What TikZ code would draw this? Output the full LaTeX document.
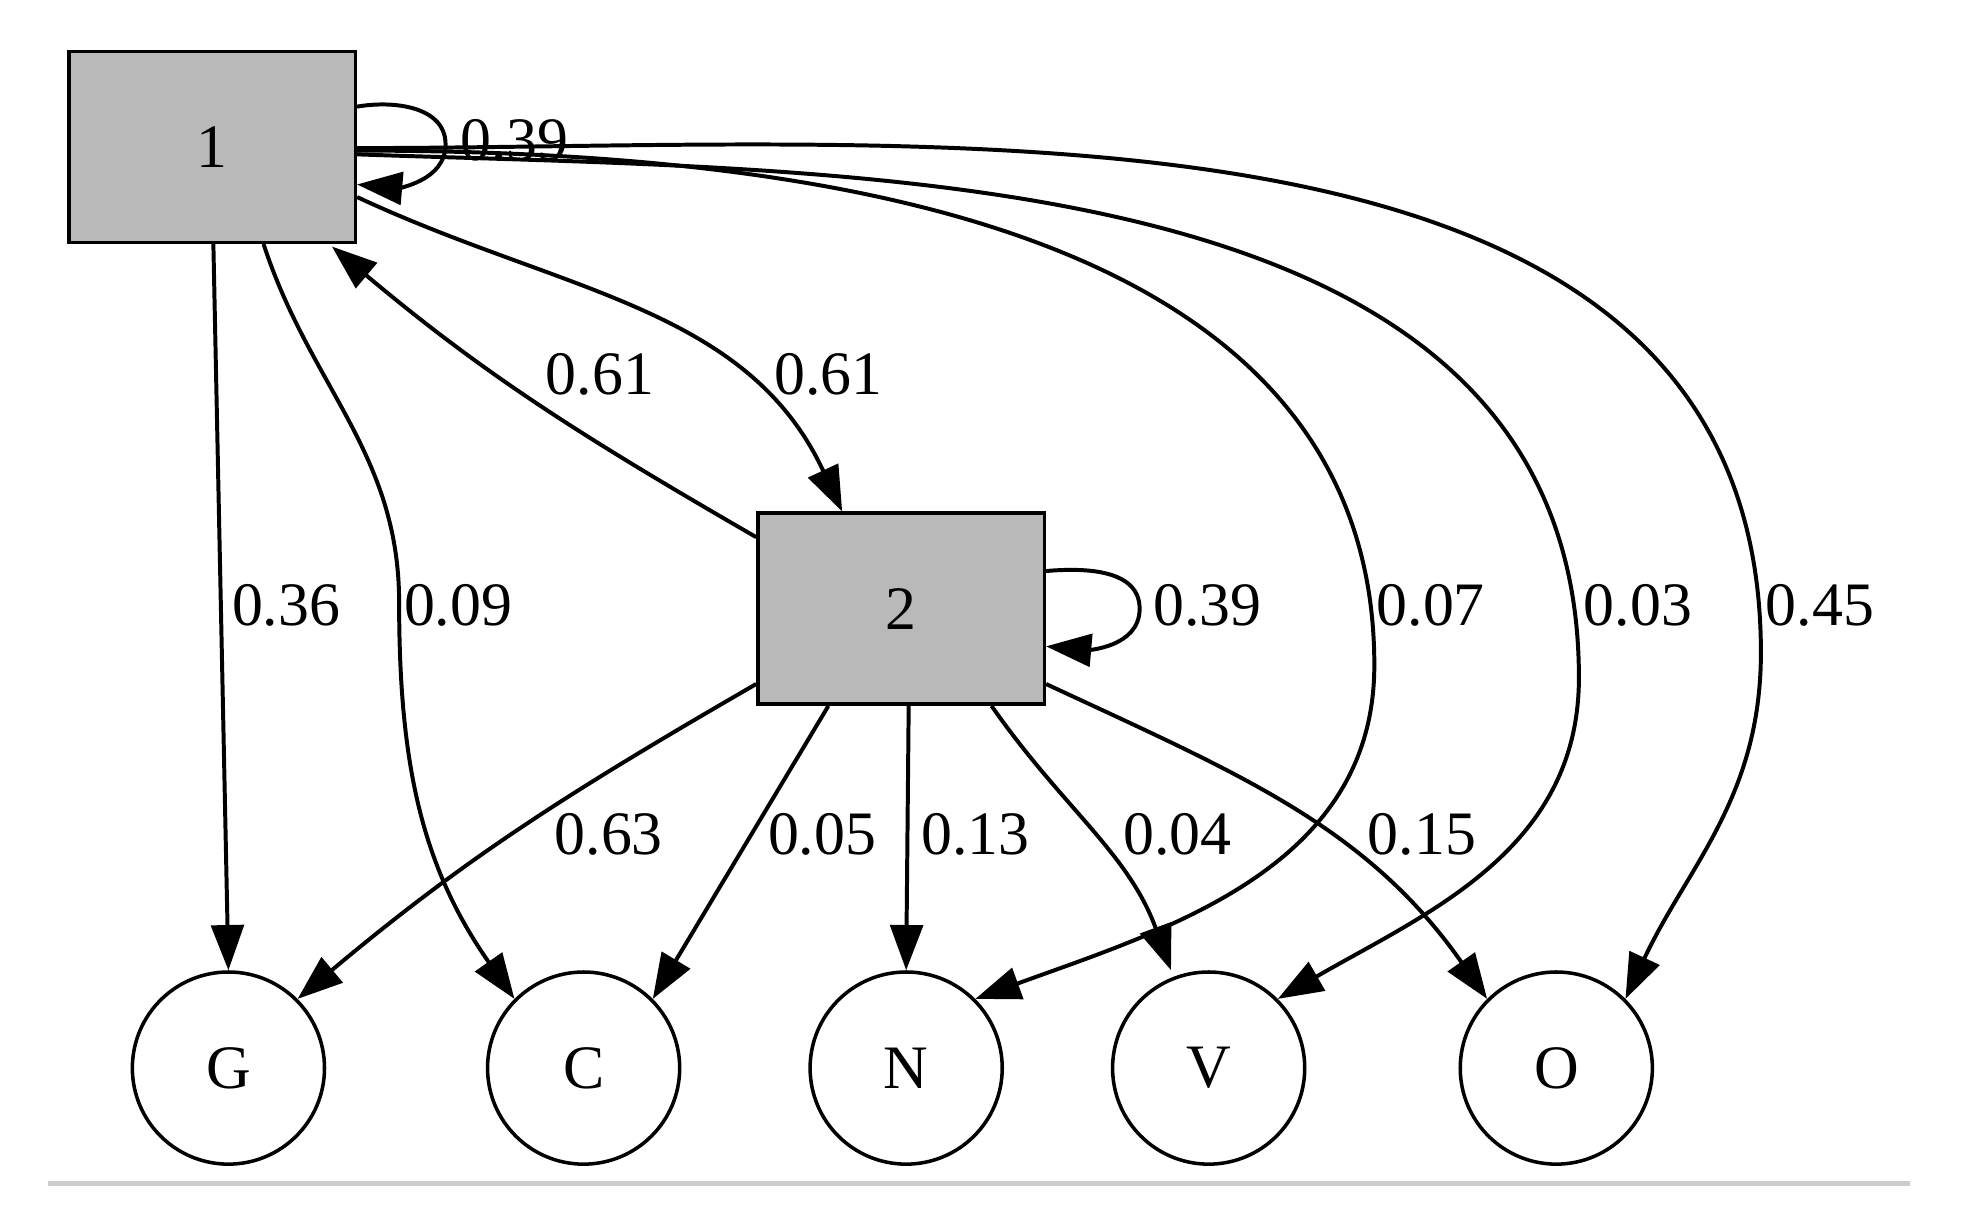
\documentclass[tikz,border=0pt]{standalone}
\usepackage{fontspec}
\setmainfont{Liberation Serif}
\usetikzlibrary{arrows.meta,calc}
\begin{document}
\begin{tikzpicture}[x=0.01cm,y=-0.01cm,
  every node/.style={font=\fontsize{14}{16}\selectfont},
  box/.style={draw,thick,fill=gray!55,minimum width=2.28cm,minimum height=1.52cm,inner sep=0},
  st/.style={draw,thick,circle,minimum size=1.53cm,inner sep=0},
  e/.style={draw,line width=0.9pt,-{Triangle[length=0.36cm,width=0.26cm]}},
  lab/.style={inner sep=1pt}]
\useasboundingbox (0,0) rectangle (1568,971);
\draw[gray!40,line width=1pt] (38,943) -- (1522,943);
\node[box] (n1) at (169,117) {1};
\node[box] (n2) at (718,485) {2};
\node[st] (G) at (182,851) {G};
\node[st] (C) at (465,851) {C};
\node[st] (N) at (722,851) {N};
\node[st] (V) at (963,851) {V};
\node[st] (O) at (1240,851) {O};
% self loops
\draw[e] ($(n1.east)+(0,-32)$) to[out=10,in=90] (355,115) to[out=-90,in=-5] ($(n1.east)+(0,30)$);
\node[lab] (l1) at (410,112) {0.39};
\draw[e] ($(n2.east)+(0,-30)$) to[out=5,in=90] (908,485) to[out=-90,in=-5] ($(n2.east)+(0,30)$);
\node[lab] (l2) at (962,482) {0.39};
% 1 <-> 2
\draw[e] ($(n2.west)+(0,-57)$) to[out=150,in=-40] ($(n1.south east)+(-20,2)$);
\node[lab] (l3) at (478,298) {0.61};
\draw[e] ($(n1.east)+(0,40)$) to[out=-25,in=115] ($(n2.north)+(-47,0)$);
\node[lab] (l4) at (660,298) {0.61};
% 1 -> bottom
\draw[e] ($(n1.south)+(1,0)$) -- (G.north);
\node[lab] (l5) at (228,482) {0.36};
\draw[e] ($(n1.south)+(41,0)$) to[out=-72,in=90] (318,480) to[out=-90,in=125] (C.north west);
\node[lab] (l6) at (365,482) {0.09};
\draw[e] ($(n1.east)+(0,3)$) to[out=0,in=90] (1095,530) to[out=-90,in=20] (N.north east);
\node[lab] (l7) at (1140,482) {0.07};
\draw[e] ($(n1.east)+(0,6)$) to[out=-2,in=90] (1258,540) to[out=-90,in=30] (V.north east);
\node[lab] (l8) at (1305,482) {0.03};
\draw[e] ($(n1.east)+(0,1)$) to[out=0,in=90] (1403,520) to[out=-90,in=65] (O.north east);
\node[lab] (l9) at (1450,482) {0.45};
% 2 -> bottom
\draw[e] ($(n2.west)+(0,60)$) to[out=-150,in=40] (G.north east);
\node[lab] (l10) at (485,665) {0.63};
\draw[e] ($(n2.south)+(-58,0)$) -- (C.north east);
\node[lab] (l11) at (655,665) {0.05};
\draw[e] ($(n2.south)+(6,0)$) -- (N.north);
\node[lab] (l12) at (777,665) {0.13};
\draw[e] ($(n2.south)+(72,0)$) to[out=-55,in=110] ($(V.north)+(-30,0)$);
\node[lab] (l13) at (938,665) {0.04};
\draw[e] ($(n2.east)+(0,60)$) to[out=-25,in=125] (O.north west);
\node[lab] (l14) at (1133,665) {0.15};
\end{tikzpicture}
\end{document}
